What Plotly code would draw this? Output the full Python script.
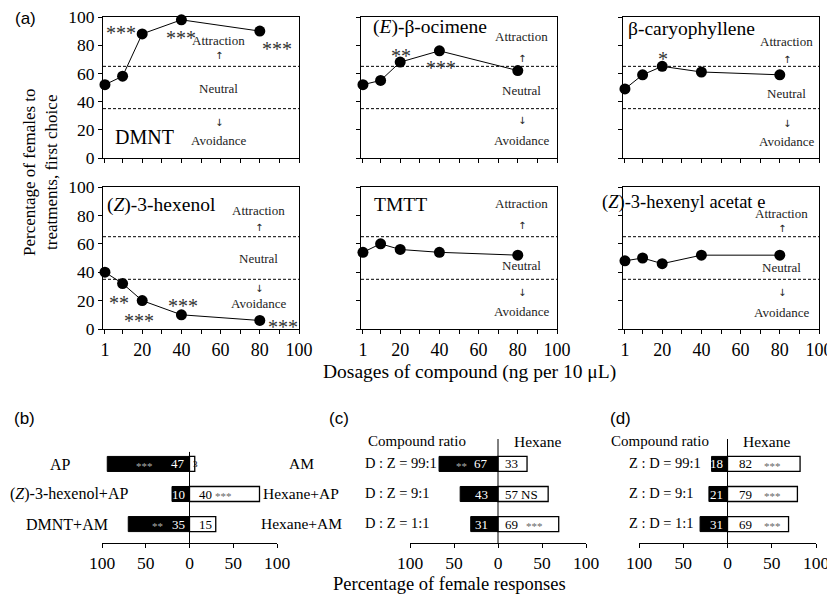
import plotly.graph_objects as go

# ---------------- data ----------------
dosages = [1, 10, 20, 40, 80]
dmnt = [52, 58, 88, 98, 90]
ocimene = [52, 55, 68, 76, 62]
caryophyllene = [49, 59, 65, 61, 59]
hexenol = [40, 32, 20, 10, 6]
tmtt = [54, 60, 56, 54, 52]
hexenyl_acetate = [48, 50, 46, 52, 52]

dmnt_sig = ["", "", "***", "***", "***"]
ocimene_sig = ["", "", "**", "***", ""]
caryophyllene_sig = ["", "", "*", "", ""]
hexenol_sig = ["", "**", "***", "***", "***"]
tmtt_sig = ["", "", "", "", ""]
hexenyl_acetate_sig = ["", "", "", "", ""]

panel_names = ["DMNT", "(<i>E</i>)-β-ocimene", "β-caryophyllene",
               "(<i>Z</i>)-3-hexenol", "TMTT", "(<i>Z</i>)-3-hexenyl acetat e"]
neutral_bounds = [35, 65]

x_tick_vals = [1, 10, 20, 30, 40, 50, 60, 70, 80, 90, 100]
x_tick_text = ["1", "", "20", "", "40", "", "60", "", "80", "", "100"]
y_tick_vals = [0, 20, 40, 60, 80, 100]

# (b)
b_left_names = ["AP", "(<i>Z</i>)-3-hexenol+AP", "DMNT+AM"]
b_right_names = ["AM", "Hexane+AP", "Hexane+AM"]
b_left_counts = [47, 10, 35]
b_right_counts = [3, 40, 15]
b_left_pct = [94, 20, 70]
b_right_pct = [6, 80, 30]
b_left_sig = ["***", "", "**"]
b_right_sig = ["", "***", ""]

# (c)
c_names = ["D : Z = 99:1", "D : Z = 9:1", "D : Z = 1:1"]
c_left_pct = [67, 43, 31]
c_right_pct = [33, 57, 69]
c_left_sig = ["**", "", ""]
c_right_sig = ["", "NS", "***"]

# (d)
d_names = ["Z : D = 99:1", "Z : D = 9:1", "Z : D = 1:1"]
d_left_pct = [18, 21, 31]
d_right_pct = [82, 79, 69]
d_left_sig = ["", "", ""]
d_right_sig = ["***", "***", "***"]

bar_ticks = [-100, -50, 0, 50, 100]
bar_tick_text = ["100", "50", "0", "50", "100"]

# ---------------- layout helpers ----------------
PAGE_W, PAGE_H = 835, 595
OFF = 8                       # default page body margin
W, H = PAGE_W - OFF, PAGE_H - OFF
SERIF = "Liberation Serif"
SANS = "Liberation Sans"


def px_x(p):
    return (p - OFF) / W


def px_y(p):
    return 1 - (p - OFF) / H


def xd(a, b):
    return [px_x(a), px_x(b)]


def yd(top, bottom):
    return [px_y(bottom), px_y(top)]


col_px = [(103, 299), (361, 557), (623, 819)]
row_px = [(17, 158), (187, 329)]
bar_col_px = [(102, 277), (410, 586), (639, 816)]
bar_row_px = (439, 543)

series = [dmnt, ocimene, caryophyllene, hexenol, tmtt, hexenyl_acetate]
sigs = [dmnt_sig, ocimene_sig, caryophyllene_sig, hexenol_sig, tmtt_sig, hexenyl_acetate_sig]

# text placement (data coordinates) for each line panel
name_pos = [(21, 15), (35, 93), (35, 92), (30, 87), (20, 88), (31, 89)]
zone_pos = [  # x, attraction, up-arrow, neutral, down-arrow, avoidance
    (59, 83, 73, 49, 25, 12.5),
    (82, 86.4, 70.6, 47.8, 26.6, 12.5),
    (83.5, 82.7, 69.7, 45.6, 24.8, 11.8),
    (79.5, 83.5, 71.8, 49.9, 28.7, 18.1),
    (82, 88.6, 72.8, 45, 25.5, 12.5),
    (81, 81, 70.6, 43, 25.9, 11.8),
]
star_pos = [
    {2: (9.4, 92.5), 3: (40, 88.7), 4: (88.7, 80.7)},
    {2: (20.4, 76), 3: (40.8, 67.5)},
    {2: (20.4, 74)},
    {1: (8.3, 21.9), 2: (18.5, 9.4), 3: (40.6, 20), 4: (91.7, 5.2)},
    {},
    {},
]

fig = go.Figure()
layout = dict(width=W, height=H, margin=dict(l=0, r=0, t=0, b=0, autoexpand=False),
              paper_bgcolor="white", plot_bgcolor="white", showlegend=False,
              barmode="overlay", template="none")
annotations = []
shapes = []


def axname(kind, i):
    return kind + "axis" + ("" if i == 1 else str(i))


def ref(kind, i):
    return kind + ("" if i == 1 else str(i))


# ---------- panel (a) ----------
for k in range(6):
    i = k + 1
    r, c = divmod(k, 3)
    layout[axname("x", i)] = dict(
        domain=xd(*col_px[c]), range=[0, 100], anchor=ref("y", i), automargin=False,
        tickvals=x_tick_vals, ticktext=x_tick_text if r == 1 else [""] * len(x_tick_vals),
        ticks="outside", ticklen=4, tickcolor="black", showline=True, linecolor="black",
        linewidth=1, mirror=True, showgrid=False, zeroline=False, ticklabeloverflow="allow",
        tickfont=dict(family=SERIF, size=18, color="black"))
    layout[axname("y", i)] = dict(
        domain=yd(*row_px[r]), range=[0, 100], anchor=ref("x", i), automargin=False,
        tickvals=y_tick_vals, showticklabels=(c == 0), ticklabeloverflow="allow",
        ticks="outside", ticklen=4, tickcolor="black", showline=True, linecolor="black",
        linewidth=1, mirror=True, showgrid=False, zeroline=False,
        tickfont=dict(family=SERIF, size=17.5, color="black"))
    fig.add_trace(go.Scatter(
        x=dosages, y=series[k], mode="lines+markers", xaxis=ref("x", i), yaxis=ref("y", i),
        line=dict(color="black", width=1), marker=dict(size=11, color="black"),
        cliponaxis=False))
    for b in neutral_bounds:
        shapes.append(dict(type="line", xref=ref("x", i), yref=ref("y", i), x0=0, x1=100,
                           y0=b, y1=b, line=dict(color="black", width=1, dash="3px,2px")))
    nx, ny = name_pos[k]
    annotations.append(dict(text=panel_names[k], x=nx, y=ny, xref=ref("x", i), yref=ref("y", i),
                            showarrow=False,
                            font=dict(family=SERIF, size=20 if k == 0 else (18.5 if k == 5 else 19.5),
                                      color="black")))
    zx, za, zu, zn, zdn, zav = zone_pos[k]
    for txt, yy, fs, fam in [("Attraction", za, 13, SERIF), ("↑", zu, 10, "DejaVu Sans"),
                             ("Neutral", zn, 13, SERIF), ("↓", zdn, 10, "DejaVu Sans"),
                             ("Avoidance", zav, 13, SERIF)]:
        annotations.append(dict(text=txt, x=zx, y=yy, xref=ref("x", i), yref=ref("y", i),
                                showarrow=False, font=dict(family=fam, size=fs, color="#222")))
    for idx, s in enumerate(sigs[k]):
        if s:
            sx, sy = star_pos[k][idx]
            annotations.append(dict(text=s, x=sx, y=sy, xref=ref("x", i), yref=ref("y", i),
                                    showarrow=False, yshift=-5,
                                    font=dict(family=SERIF, size=20, color="#333")))

# ---------- panels (b), (c), (d) ----------
bar_sets = [
    (b_left_pct, b_right_pct, [str(v) for v in b_left_counts], [str(v) for v in b_right_counts],
     b_left_sig, b_right_sig, [-52, None, -37], [None, 39, None], 3, 7, -0.4),
    (c_left_pct, c_right_pct, [str(v) for v in c_left_pct], [str(v) for v in c_right_pct],
     c_left_sig, c_right_sig, [-42, None, None], [None, 36, 41], 8, 5, -0.83),
    (d_left_pct, d_right_pct, [str(v) for v in d_left_pct], [str(v) for v in d_right_pct],
     d_left_sig, d_right_sig, [None, None, None], [51, 51, 51], 3, 9, -0.83),
]
rows = [0, 1, 2]
for j, (lp, rp, lt, rt, ls, rs, lsx, rsx, lshift, rshift, ztop) in enumerate(bar_sets):
    i = 7 + j
    layout[axname("x", i)] = dict(
        domain=xd(*bar_col_px[j]), range=[-100, 100], anchor=ref("y", i), automargin=False,
        tickvals=bar_ticks, ticktext=bar_tick_text, ticks="outside", ticklen=4,
        tickcolor="black", showline=True, linecolor="black", linewidth=1,
        showgrid=False, zeroline=False, ticklabeloverflow="allow",
        tickfont=dict(family=SERIF, size=17.5, color="black"))
    layout[axname("y", i)] = dict(
        domain=yd(*bar_row_px), range=[2.63, -0.83], anchor=ref("x", i), automargin=False,
        visible=False, showgrid=False, zeroline=False)
    fig.add_trace(go.Bar(x=[-v for v in lp], y=rows, orientation="h", width=0.5,
                         marker=dict(color="black", line=dict(color="black", width=1)),
                         xaxis=ref("x", i), yaxis=ref("y", i)))
    fig.add_trace(go.Bar(x=rp, y=rows, orientation="h", width=0.5,
                         marker=dict(color="white", line=dict(color="black", width=1.3)),
                         xaxis=ref("x", i), yaxis=ref("y", i)))
    shapes.append(dict(type="line", xref=ref("x", i), yref=ref("y", i), x0=0, x1=0,
                       y0=ztop, y1=2.63, line=dict(color="black", width=1)))
    for r in rows:
        annotations.append(dict(text=lt[r], x=0, y=r, xref=ref("x", i), yref=ref("y", i),
                                xanchor="right", xshift=-lshift, showarrow=False,
                                font=dict(family=SERIF, size=13, color="white")))
        annotations.append(dict(text=rt[r], x=0, y=r, xref=ref("x", i), yref=ref("y", i),
                                xanchor="left", xshift=rshift if rp[r] >= 10 else 1, showarrow=False,
                                font=dict(family=SERIF, size=13 if rp[r] >= 10 else 9, color="black")))
        if ls[r]:
            annotations.append(dict(text=ls[r], x=lsx[r], y=r, xref=ref("x", i), yref=ref("y", i),
                                    showarrow=False, yshift=-2,
                                    font=dict(family=SERIF, size=11, color="#aaa")))
        if rs[r]:
            is_ns = rs[r] == "NS"
            annotations.append(dict(text=rs[r], x=rsx[r], y=r, xref=ref("x", i), yref=ref("y", i),
                                    showarrow=False, yshift=0 if is_ns else -2,
                                    font=dict(family=SERIF, size=13 if is_ns else 11,
                                              color="black" if is_ns else "#666")))


# side labels of (b), (c), (d)  (paper coordinates from page pixel positions)
def paper_text(text, px, py, size, anchor="center", family=SERIF, color="black"):
    annotations.append(dict(text=text, x=px_x(px), y=px_y(py), xref="paper", yref="paper",
                            xanchor=anchor, yanchor="middle", showarrow=False,
                            font=dict(family=family, size=size, color=color)))


row_py = [464, 494, 524]
b_left_px = [60, 69, 67]
for r in rows:
    paper_text(b_left_names[r], b_left_px[r], row_py[r], 16)
    paper_text(b_right_names[r], 301, row_py[r] - 1, 15.5)
    paper_text(c_names[r], 363, row_py[r] - 1, 14.5, anchor="left")
    paper_text(d_names[r], 627, row_py[r] - 1, 14.5, anchor="left")
paper_text("Compound ratio", 417, 441, 15)
paper_text("Hexane", 537, 441, 15.5)
paper_text("Compound ratio", 660, 441, 15)
paper_text("Hexane", 766, 441, 15.5)

# panel letters and axis titles
paper_text("(a)", 25, 18, 17, family=SANS)
paper_text("(b)", 24, 418, 17, family=SANS)
paper_text("(c)", 339, 418, 17, family=SANS)
paper_text("(d)", 620, 418, 17, family=SANS)
paper_text("Dosages of compound (ng per 10 μL)", 469, 372, 19.5)
paper_text("Percentage of female responses", 449, 584, 18.5)
annotations.append(dict(text="Percentage of females to<br>treatments, first choice",
                        x=px_x(40), y=px_y(172), xref="paper", yref="paper", textangle=-90,
                        showarrow=False, xanchor="center", yanchor="middle",
                        font=dict(family=SERIF, size=17, color="black")))

layout["annotations"] = annotations
layout["shapes"] = shapes
fig.update_layout(**layout)
fig.write_html("out.html")
